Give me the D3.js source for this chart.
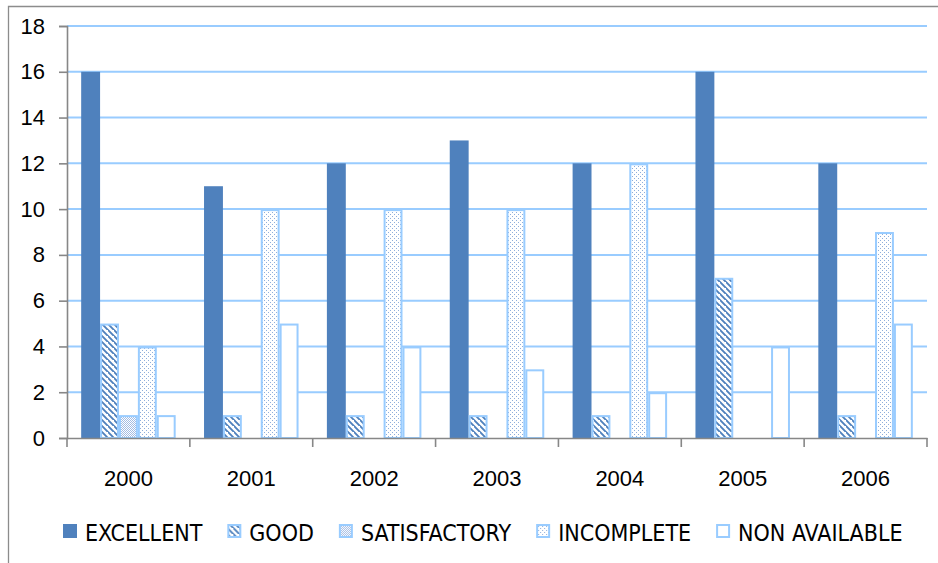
<!DOCTYPE html>
<html>
<head>
<meta charset="utf-8">
<script src="https://cdn.jsdelivr.net/npm/d3@7"></script>
<style>
  html, body { margin: 0; padding: 0; background: #fff; }
  svg { display: block; }
</style>
</head>
<body>
<svg id="chart" width="938" height="563"></svg>
<script>
// ---- data ----
const years = ["2000", "2001", "2002", "2003", "2004", "2005", "2006"];
const series = ["EXCELLENT", "GOOD", "SATISFACTORY", "INCOMPLETE", "NON AVAILABLE"];
const excellent    = [16, 11, 12, 13, 12, 16, 12];
const good         = [5, 1, 1, 1, 1, 7, 1];
const satisfactory = [1, 0, 0, 0, 0, 0, 0];
const incomplete   = [4, 10, 10, 10, 12, 0, 9];
const nonAvailable = [1, 5, 4, 3, 2, 4, 5];
const yTicks = [0, 2, 4, 6, 8, 10, 12, 14, 16, 18];

const values = [excellent, good, satisfactory, incomplete, nonAvailable];

// ---- setup ----
const svg = d3.select("#chart");
const W = 938, H = 563;
const margin = { left: 67, right: 11, top: 26, bottom: 125 };
const plotL = margin.left, plotR = W - margin.right, plotT = margin.top, plotB = H - margin.bottom;

const blue = "#4F81BD";
const light = "#99CCFF";
const axisCol = "#878787";
const numFont = "'Liberation Sans', Arial, sans-serif";
const legFont = "'Liberation Sans Narrow', 'DejaVu Sans Condensed', 'Liberation Sans', sans-serif";

// patterns
const defs = svg.append("defs");
const pGood = defs.append("pattern").attr("id", "pGood").attr("patternUnits", "userSpaceOnUse")
  .attr("width", 6).attr("height", 6);
pGood.append("rect").attr("width", 6).attr("height", 6).attr("fill", "#fff");
pGood.append("path").attr("d", "M-1,-1 L7,7 M-4,2 L2,8 M4,-4 L10,2")
  .attr("stroke", "#4F81BD").attr("stroke-width", 1.9);

const dot = "#A3BCE3";
const pSat = defs.append("pattern").attr("id", "pSat").attr("patternUnits", "userSpaceOnUse")
  .attr("width", 2).attr("height", 2);
pSat.append("rect").attr("width", 2).attr("height", 2).attr("fill", "#fff");
pSat.append("rect").attr("width", 1).attr("height", 1).attr("fill", dot);
pSat.append("rect").attr("x", 1).attr("y", 1).attr("width", 1).attr("height", 1).attr("fill", dot);

const pInc = defs.append("pattern").attr("id", "pInc").attr("patternUnits", "userSpaceOnUse")
  .attr("width", 4).attr("height", 4);
pInc.append("rect").attr("width", 4).attr("height", 4).attr("fill", "#fff");
pInc.append("rect").attr("x", 0).attr("y", 0).attr("width", 1).attr("height", 1).attr("fill", "#8FAEDB");
pInc.append("rect").attr("x", 2).attr("y", 2).attr("width", 1).attr("height", 1).attr("fill", "#8FAEDB");

const fills = {
  "EXCELLENT": blue,
  "GOOD": "url(#pGood)",
  "SATISFACTORY": "url(#pSat)",
  "INCOMPLETE": "url(#pInc)",
  "NON AVAILABLE": "#fff"
};
const strokes = {
  "EXCELLENT": "none",
  "GOOD": light,
  "SATISFACTORY": light,
  "INCOMPLETE": light,
  "NON AVAILABLE": light
};

// outer frame (left & top visible)
svg.append("path").attr("d", `M8.5,${H} L8.5,6.5 L${W},6.5`)
  .attr("fill", "none").attr("stroke", "#8c8c8c").attr("stroke-width", 1.3);

// scales
const x = d3.scaleBand().domain(years).range([plotL, plotR]).paddingInner(0).paddingOuter(0);
const xs = d3.scaleBand().domain(series).range([0, x.bandwidth()]).paddingInner(0).paddingOuter(0.75);
const y = d3.scaleLinear().domain([0, 18]).range([plotB, plotT]);

// gridlines
svg.append("g").selectAll("line").data(yTicks.filter(d => d > 0)).join("line")
  .attr("x1", plotL).attr("x2", plotR)
  .attr("y1", d => y(d)).attr("y2", d => y(d))
  .attr("stroke", light).attr("stroke-width", 2);

// bars
const bars = [];
years.forEach((yr, i) => series.forEach((s, j) => bars.push({ yr, s, v: values[j][i] })));
svg.append("g").selectAll("rect").data(bars.filter(d => d.v > 0)).join("rect")
  .attr("x", d => x(d.yr) + xs(d.s) + (d.s === "EXCELLENT" ? 0 : 1))
  .attr("y", d => y(d.v) + (d.s === "EXCELLENT" ? 0 : 1))
  .attr("width", d => xs.bandwidth() - (d.s === "EXCELLENT" ? 0 : 2))
  .attr("height", d => y(0) - y(d.v) - (d.s === "EXCELLENT" ? 0 : 1))
  .attr("fill", d => fills[d.s])
  .attr("stroke", d => strokes[d.s])
  .attr("stroke-width", 2);

// y axis
const yAxis = d3.axisLeft(y).tickValues(yTicks).tickSize(8).tickPadding(14).tickFormat(d3.format("d"));
const gy = svg.append("g").attr("transform", `translate(${plotL},0)`).call(yAxis);
gy.select(".domain").attr("stroke", axisCol).attr("stroke-width", 1.6);
gy.selectAll(".tick line").attr("stroke", axisCol).attr("stroke-width", 1.6);
gy.selectAll(".tick text").attr("font-family", numFont).attr("font-size", 22).attr("fill", "#000");

// x axis
const xAxis = d3.axisBottom(x).tickSize(0).tickPadding(32);
const gx = svg.append("g").attr("transform", `translate(0,${plotB})`).call(xAxis);
gx.select(".domain").attr("stroke", axisCol).attr("stroke-width", 1.6);
gx.selectAll(".tick text").attr("font-family", numFont).attr("font-size", 22).attr("fill", "#000");
// boundary ticks
const bounds = years.map(d => x(d)).concat([x(years[years.length - 1]) + x.bandwidth()]);
gx.append("g").selectAll("line").data(bounds).join("line")
  .attr("x1", d => d).attr("x2", d => d).attr("y1", 0).attr("y2", 9)
  .attr("stroke", axisCol).attr("stroke-width", 1.6);

// legend
const leg = svg.append("g").attr("transform", "translate(63,0)");
let lx = 0;
series.forEach(s => {
  const g = leg.append("g").attr("transform", `translate(${lx},0)`);
  g.append("rect").attr("x", s === "EXCELLENT" ? 0 : 1).attr("y", s === "EXCELLENT" ? 524 : 525)
    .attr("width", s === "EXCELLENT" ? 14 : 12).attr("height", s === "EXCELLENT" ? 14 : 12)
    .attr("fill", fills[s]).attr("stroke", strokes[s]).attr("stroke-width", 2);
  const t = g.append("text").attr("x", 22).attr("y", 541)
    .attr("font-family", legFont).attr("font-size", 23).attr("fill", "#000").text(s);
  lx += 22 + t.node().getComputedTextLength() + 25;
});
</script>
</body>
</html>
